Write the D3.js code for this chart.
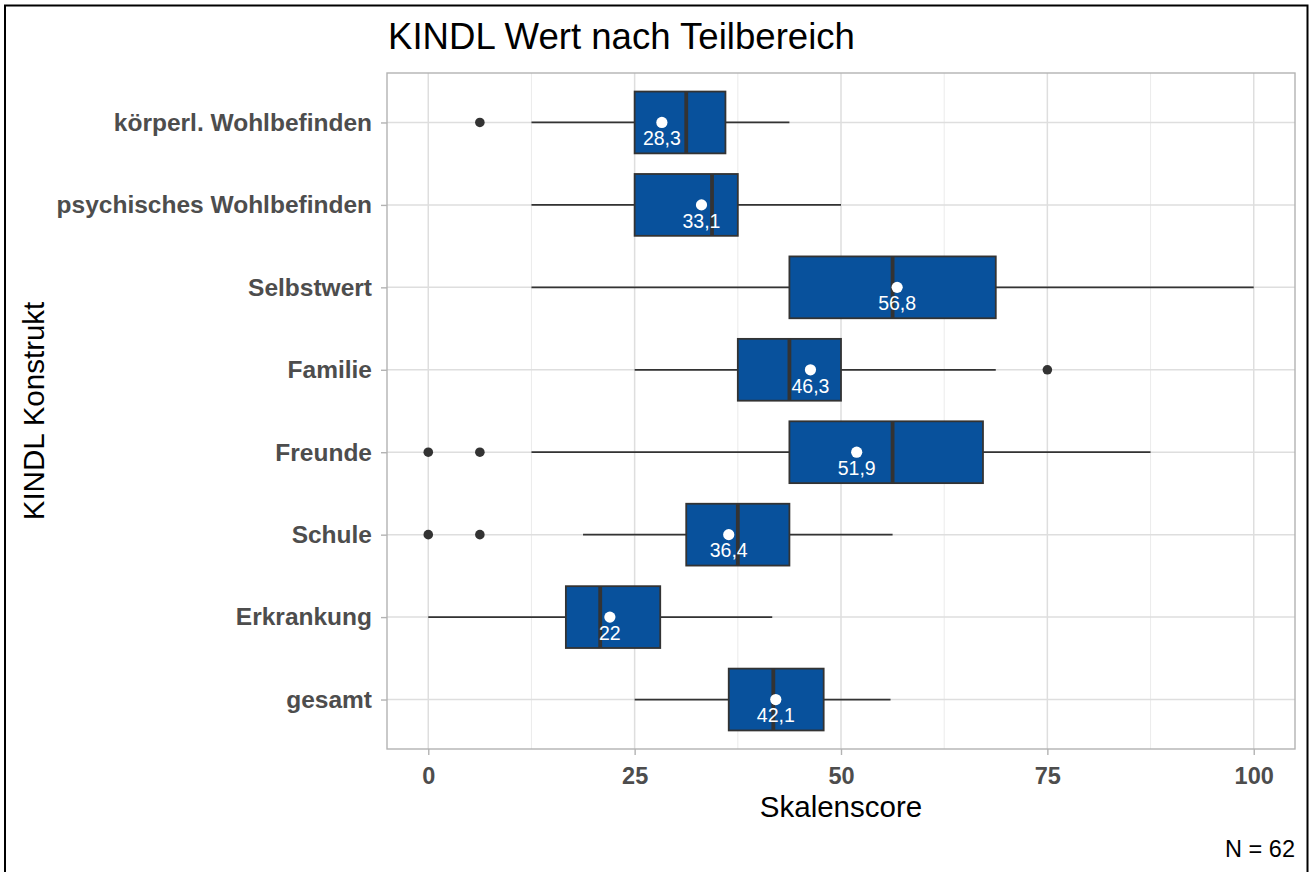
<!DOCTYPE html>
<html>
<head>
<meta charset="utf-8">
<script src="https://cdn.jsdelivr.net/npm/d3@7"></script>
<style>
  body { margin: 0; background: #fff; }
  svg { display: block; font-family: "Liberation Sans", Arial, sans-serif; }
</style>
</head>
<body>
<div id="chart"></div>
<script>
// KINDL subscales, top to bottom
let categories = ["körperl. Wohlbefinden", "psychisches Wohlbefinden", "Selbstwert",
  "Familie", "Freunde", "Schule", "Erkrankung", "gesamt"];

let whiskerLow  = [12.5, 12.5, 12.5, 25, 12.5, 18.75, 0, 25];
let q1          = [25, 25, 43.75, 37.5, 43.75, 31.25, 16.67, 36.4];
let median      = [31.25, 34.375, 56.25, 43.75, 56.25, 37.5, 20.83, 41.8];
let q3          = [36, 37.5, 68.75, 50, 67.2, 43.75, 28.1, 47.9];
let whiskerHigh = [43.75, 50, 100, 68.75, 87.5, 56.25, 41.67, 56];
let means       = [28.3, 33.1, 56.8, 46.3, 51.9, 36.4, 22, 42.1];
let outliers    = [[6.25], [], [], [75], [0, 6.25], [0, 6.25], [], []];

let xTicks = [0, 25, 50, 75, 100];
let xMinor = [12.5, 37.5, 62.5, 87.5];

let width = 1314;
let height = 872;
let panel = { left: 387, right: 1295, top: 73, bottom: 749 };

let boxes = categories.map((c, i) => ({
  cat: c, lo: whiskerLow[i], q1: q1[i], med: median[i], q3: q3[i],
  hi: whiskerHigh[i], mean: means[i], out: outliers[i]
}));

let x = d3.scaleLinear().domain([-5, 105]).range([panel.left, panel.right]);
let y = d3.scalePoint().domain(categories).range([panel.top, panel.bottom]).padding(0.6);
let boxH = y.step() * 0.75;

let svg = d3.select("#chart").append("svg")
  .attr("width", width)
  .attr("height", height);

svg.append("rect").attr("width", width).attr("height", height).attr("fill", "#fff");

// grid
let grid = svg.append("g");
grid.selectAll(".minor").data(xMinor).enter().append("line")
  .attr("x1", d => x(d)).attr("x2", d => x(d))
  .attr("y1", panel.top).attr("y2", panel.bottom)
  .attr("stroke", "#e6e6e6").attr("stroke-width", 0.8);
grid.selectAll(".major").data(xTicks).enter().append("line")
  .attr("x1", d => x(d)).attr("x2", d => x(d))
  .attr("y1", panel.top).attr("y2", panel.bottom)
  .attr("stroke", "#dedede").attr("stroke-width", 1.5);
grid.selectAll(".hmajor").data(categories).enter().append("line")
  .attr("x1", panel.left).attr("x2", panel.right)
  .attr("y1", d => y(d)).attr("y2", d => y(d))
  .attr("stroke", "#dedede").attr("stroke-width", 1.5);

// boxplots
let g = svg.append("g");
let row = g.selectAll(".box").data(boxes).enter().append("g")
  .attr("transform", d => "translate(0," + y(d.cat) + ")");

row.append("line")
  .attr("x1", d => x(d.lo)).attr("x2", d => x(d.q1))
  .attr("stroke", "#333").attr("stroke-width", 1.8);
row.append("line")
  .attr("x1", d => x(d.q3)).attr("x2", d => x(d.hi))
  .attr("stroke", "#333").attr("stroke-width", 1.8);
row.append("rect")
  .attr("x", d => x(d.q1)).attr("y", -boxH / 2)
  .attr("width", d => x(d.q3) - x(d.q1)).attr("height", boxH)
  .attr("fill", "#08519c").attr("stroke", "#333").attr("stroke-width", 1.8);
row.append("line")
  .attr("x1", d => x(d.med)).attr("x2", d => x(d.med))
  .attr("y1", -boxH / 2).attr("y2", boxH / 2)
  .attr("stroke", "#333").attr("stroke-width", 3.8);
row.selectAll(".out").data(d => d.out).enter().append("circle")
  .attr("cx", d => x(d)).attr("r", 4.8).attr("fill", "#333");
row.append("circle")
  .attr("cx", d => x(d.mean)).attr("r", 5.6).attr("fill", "#fff");
row.append("text")
  .attr("x", d => x(d.mean)).attr("y", 22.8)
  .attr("text-anchor", "middle")
  .attr("fill", "#fff").style("font-size", "19.5px")
  .text(d => String(d.mean).replace(".", ","));

// panel border
svg.append("rect")
  .attr("x", panel.left).attr("y", panel.top)
  .attr("width", panel.right - panel.left).attr("height", panel.bottom - panel.top)
  .attr("fill", "none").attr("stroke", "#b3b3b3").attr("stroke-width", 1.4);

// axes
let yAxis = svg.append("g")
  .attr("transform", "translate(" + panel.left + ",0)")
  .call(d3.axisLeft(y).tickSize(6).tickPadding(9));
let xAxis = svg.append("g")
  .attr("transform", "translate(0," + panel.bottom + ")")
  .call(d3.axisBottom(x).tickValues(xTicks).tickSize(6).tickPadding(7));

[yAxis, xAxis].forEach(a => {
  a.select(".domain").remove();
  a.selectAll(".tick line").attr("stroke", "#b3b3b3").attr("stroke-width", 1.4);
  a.selectAll("text")
    .attr("fill", "#4d4d4d")
    .style("font-family", "'Liberation Sans', Arial, sans-serif")
    .style("font-weight", "bold");
});
yAxis.selectAll("text").style("font-size", "24.5px");
xAxis.selectAll("text").style("font-size", "23.5px").attr("dy", "0.95em");

// titles
svg.append("text")
  .attr("x", 388).attr("y", 49)
  .style("font-size", "36.6px").attr("fill", "#000")
  .text("KINDL Wert nach Teilbereich");

svg.append("text")
  .attr("x", (panel.left + panel.right) / 2).attr("y", 816.5)
  .attr("text-anchor", "middle")
  .style("font-size", "29.5px").attr("fill", "#000")
  .text("Skalenscore");

svg.append("text")
  .attr("transform", "translate(43.5," + (panel.top + panel.bottom) / 2 + ") rotate(-90)")
  .attr("text-anchor", "middle")
  .style("font-size", "29.5px").attr("fill", "#000")
  .text("KINDL Konstrukt");

svg.append("text")
  .attr("x", panel.right).attr("y", 856.5)
  .attr("text-anchor", "end")
  .style("font-size", "23.5px").attr("fill", "#000")
  .text("N = 62");

// outer frame
svg.append("rect")
  .attr("x", 5).attr("y", 5.5)
  .attr("width", 1302.5).attr("height", 890)
  .attr("fill", "none").attr("stroke", "#000").attr("stroke-width", 2);
</script>
</body>
</html>
